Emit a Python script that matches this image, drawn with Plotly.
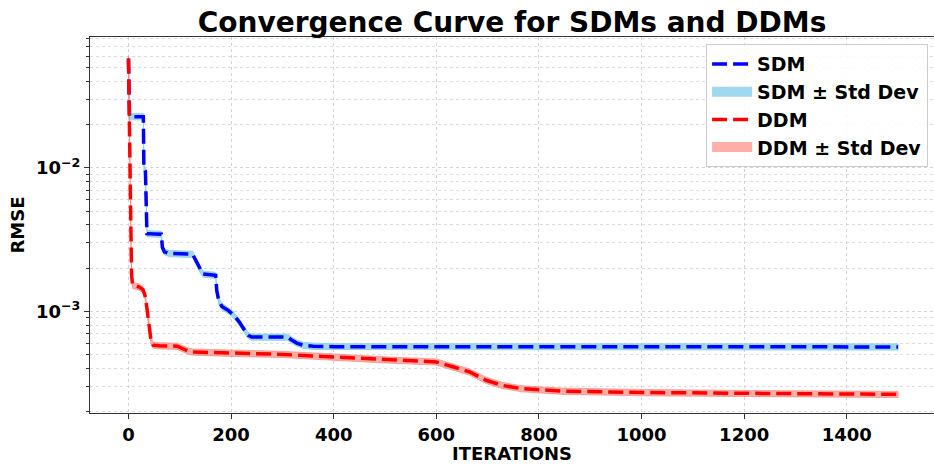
import plotly.graph_objects as go

# ---------------- data ----------------
sdm_iter = [0, 1, 2, 29, 30, 33, 35, 36, 64, 66, 70, 80, 125, 130, 138, 145, 170, 172,
            176, 182, 195, 205, 215, 225, 233, 240, 310, 318, 328, 340, 360, 400, 1500]
sdm_rmse = [0.058, 0.0228, 0.0228, 0.0228, 0.0099, 0.0095, 0.0045, 0.00348, 0.00345,
            0.0028, 0.0026, 0.00253, 0.0025, 0.0023, 0.0020, 0.00182, 0.00178, 0.0014,
            0.00118, 0.00108, 0.00101, 0.00094, 0.00085, 0.00075, 0.00068, 0.00066,
            0.00066, 0.00063, 0.0006, 0.00058, 0.00057, 0.000566, 0.000564]
sdm_std = [0.0029, 0.00114, 0.00114, 0.00114, 0.0005, 0.00048, 0.00023, 0.00017, 0.00017,
           0.00014, 0.00013, 0.000127, 0.000125, 0.000115, 0.0001, 0.000091, 0.000089,
           0.00007, 0.000059, 0.000054, 0.00005, 0.000047, 0.000043, 0.000038, 0.000034,
           0.000033, 0.000033, 0.000032, 0.00003, 0.000029, 0.000029, 0.000028, 0.000028]

ddm_iter = [0, 1, 2, 3, 4, 5, 6, 8, 20, 28, 32, 36, 40, 44, 48, 60, 95, 105, 115, 125,
            200, 300, 400, 500, 600, 634, 665, 697, 728, 767, 846, 1003, 1200, 1500]
ddm_rmse = [0.058, 0.03, 0.015, 0.008, 0.0045, 0.0025, 0.0018, 0.00152, 0.00148, 0.00142,
            0.0013, 0.00105, 0.0008, 0.00062, 0.00058, 0.000575, 0.00057, 0.00055, 0.00053,
            0.00052, 0.00051, 0.0005, 0.00048, 0.000458, 0.000443, 0.000408, 0.000377,
            0.00033, 0.000304, 0.000288, 0.000277, 0.000271, 0.000267, 0.000263]
ddm_std = [0.0029, 0.0015, 0.00075, 0.0004, 0.00023, 0.00013, 0.00009, 0.000076, 0.000074,
           0.000071, 0.000065, 0.000053, 0.00004, 0.000031, 0.000029, 0.000029, 0.000029,
           0.000028, 0.000027, 0.000026, 0.000026, 0.000025, 0.000024, 0.000023, 0.000022,
           0.00002, 0.000019, 0.000017, 0.000015, 0.000014, 0.000014, 0.000014, 0.000013,
           0.000013]

x_ticks = [0, 200, 400, 600, 800, 1000, 1200, 1400]
y_ticks = [0.01, 0.001]
y_tick_labels = ["10<sup>−2</sup>", "10<sup>−3</sup>"]
y_minor = [m * 10.0 ** e for e in (-4, -3, -2) for m in range(2, 10)]

FONT = "DejaVu Sans"
SDM_BAND = "rgba(135,206,235,0.8)"
DDM_BAND = "rgba(255,120,110,0.6)"


def band(x, y, s):
    up = [a + b for a, b in zip(y, s)]
    lo = [a - b for a, b in zip(y, s)]
    return list(x) + list(x)[::-1], up + lo[::-1]


fig = go.Figure()

bx, by = band(sdm_iter, sdm_rmse, sdm_std)
fig.add_trace(go.Scatter(x=bx, y=by, fill="toself", mode="lines",
                         line=dict(color=SDM_BAND, width=1), fillcolor=SDM_BAND,
                         showlegend=False, hoverinfo="skip"))
bx, by = band(ddm_iter, ddm_rmse, ddm_std)
fig.add_trace(go.Scatter(x=bx, y=by, fill="toself", mode="lines",
                         line=dict(color=DDM_BAND, width=1), fillcolor=DDM_BAND,
                         showlegend=False, hoverinfo="skip"))
fig.add_trace(go.Scatter(x=sdm_iter, y=sdm_rmse, mode="lines", name="SDM",
                         line=dict(color="#0000ff", width=3.5, dash="15px,6px"),
                         legendrank=1, legendgroup="a"))
fig.add_trace(go.Scatter(x=ddm_iter, y=ddm_rmse, mode="lines", name="DDM",
                         line=dict(color="#ff0000", width=3.5, dash="15px,6px"),
                         legendrank=3, legendgroup="c"))
# legend swatches for the bands
fig.add_trace(go.Scatter(x=[None], y=[None], mode="lines", name="SDM ± Std Dev",
                         line=dict(color=SDM_BAND, width=14), legendrank=2,
                         legendgroup="b"))
fig.add_trace(go.Scatter(x=[None], y=[None], mode="lines", name="DDM ± Std Dev",
                         line=dict(color=DDM_BAND, width=14), legendrank=4,
                         legendgroup="d"))

tick_font = dict(family=FONT, size=18, color="black", weight="bold")

fig.update_layout(
    width=934, height=464,
    margin=dict(l=90, r=0, t=37, b=51),
    paper_bgcolor="white", plot_bgcolor="white",
    title=dict(text="Convergence Curve for SDMs and DDMs", x=0.5, xref="paper",
               xanchor="center", y=1 - 22 / 464, yref="container", yanchor="middle",
               font=dict(family=FONT, size=28, color="black", weight="bold")),
    legend=dict(x=0.993, y=0.981, xanchor="right", yanchor="top",
                bgcolor="rgba(255,255,255,0.85)", bordercolor="#cccccc", borderwidth=1,
                font=dict(family=FONT, size=19, color="black", weight="bold"),
                tracegroupgap=3, itemwidth=40, traceorder="normal"),
    showlegend=True,
)

fig.update_xaxes(range=[-75, 1570], tickmode="array", tickvals=x_ticks,
                 ticks="outside", ticklen=5, tickcolor="#333", tickfont=tick_font,
                 showline=True, linecolor="#333", linewidth=1, mirror=True,
                 showgrid=True, gridcolor="#d4d4d4", griddash="dot", gridwidth=1,
                 zeroline=False,
                 title=dict(text="ITERATIONS", standoff=5,
                            font=dict(family=FONT, size=18, color="black", weight="bold")))
fig.update_yaxes(type="log", range=[-3.710, -1.086], tickmode="array",
                 tickvals=y_ticks, ticktext=y_tick_labels,
                 ticks="outside", ticklen=5, tickcolor="#333", tickfont=tick_font,
                 showline=True, linecolor="#333", linewidth=1, mirror=False,
                 showgrid=True, gridcolor="#d4d4d4", griddash="dot", gridwidth=1,
                 zeroline=False,
                 minor=dict(tickmode="array", tickvals=y_minor, ticks="outside",
                            ticklen=3, tickcolor="#333", showgrid=True,
                            gridcolor="#dcdcdc", griddash="dot", gridwidth=1),
                 title=dict(text="RMSE", standoff=6,
                            font=dict(family=FONT, size=18, color="black", weight="bold")))

fig.write_html("out.html")
